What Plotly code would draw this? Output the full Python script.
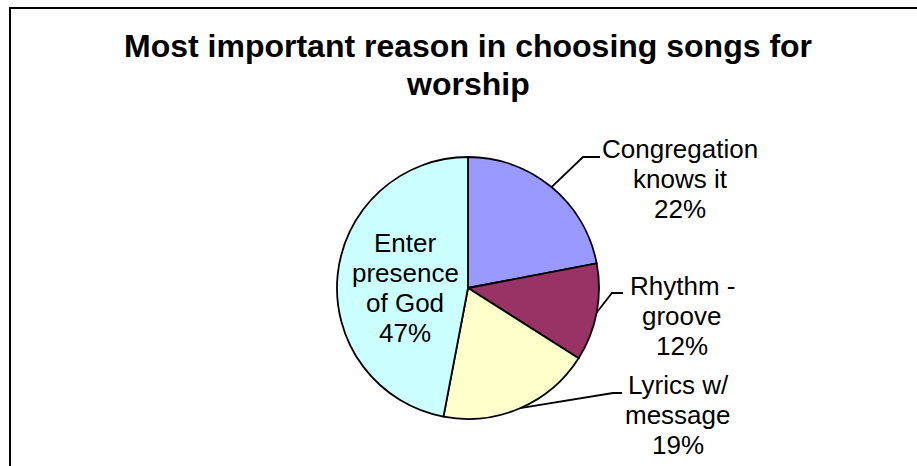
import math
import plotly.graph_objects as go

# ---- data ----
categories = ["Congregation knows it", "Rhythm - groove", "Lyrics w/ message", "Enter presence of God"]
label_lines = [["Congregation", "knows it"], ["Rhythm -", "groove"], ["Lyrics w/", "message"], ["Enter", "presence", "of God"]]
values = [22, 12, 19, 47]
colors = ["#9999FF", "#993366", "#FFFFCC", "#CCFFFF"]
title_lines = ["Most important reason in choosing songs for", "worship"]

# ---- layout (pixels) ----
W, H = 917, 466
CX, CY, R = 468, 288, 131
FONT = "Arial, 'Liberation Sans', sans-serif"
LABEL_SIZE, LABEL_STEP = 26, 30
TITLE_SIZE, TITLE_STEP = 32, 38
# label centre x and first-line centre y (px); leader-line elbow/end (px); None = inside label
label_pos = [(680, 149), (682, 286), (678, 385), (405, 243)]
leader = [((583, 157), (600, 157)), ((612, 293), (623, 293)), ((613, 393), (622, 393)), None]
title_pos = (468, 46)


def px(x):
    return x / W


def py(y):
    return 1 - y / H


fig = go.Figure(go.Pie(
    labels=categories,
    values=values,
    sort=False,
    direction="clockwise",
    rotation=0,
    textinfo="none",
    hoverinfo="label+percent",
    marker=dict(colors=colors, line=dict(color="black", width=1.8)),
    domain=dict(x=[px(CX - R), px(CX + R)], y=[py(CY + R), py(CY - R)]),
    showlegend=False,
))

total = sum(values)
annotations = []
shapes = []


def add_lines(lines, x, y0, step, size, bold=False):
    for k, t in enumerate(lines):
        annotations.append(dict(
            x=px(x), y=py(y0 + k * step), xref="paper", yref="paper",
            text=f"<b>{t}</b>" if bold else t, showarrow=False,
            xanchor="center", yanchor="middle", align="center",
            font=dict(family=FONT, size=size, color="black"),
        ))


cum = 0
for i, v in enumerate(values):
    mid = (cum + v / 2) / total * 2 * math.pi
    cum += v
    pct = round(v / total * 100)
    lx, ly = label_pos[i]
    add_lines(label_lines[i] + [f"{pct}%"], lx, ly, LABEL_STEP, LABEL_SIZE)
    if leader[i] is not None:
        ex = CX + R * math.sin(mid)
        ey = CY - R * math.cos(mid)
        (bx, by), (tx, ty) = leader[i]
        shapes.append(dict(
            type="path", xref="paper", yref="paper",
            path=f"M {px(ex)} {py(ey)} L {px(bx)} {py(by)} L {px(tx)} {py(ty)}",
            line=dict(color="black", width=1.8),
        ))

add_lines(title_lines, title_pos[0], title_pos[1], TITLE_STEP, TITLE_SIZE, bold=True)

# chart-area border
shapes.append(dict(
    type="rect", xref="paper", yref="paper",
    x0=px(10), y0=py(8), x1=1.1, y1=-0.1,
    line=dict(color="black", width=2), fillcolor="rgba(0,0,0,0)",
))

fig.update_layout(
    width=W, height=H,
    margin=dict(l=0, r=0, t=0, b=0),
    paper_bgcolor="white", plot_bgcolor="white",
    annotations=annotations, shapes=shapes,
)

fig.write_html("out.html")
